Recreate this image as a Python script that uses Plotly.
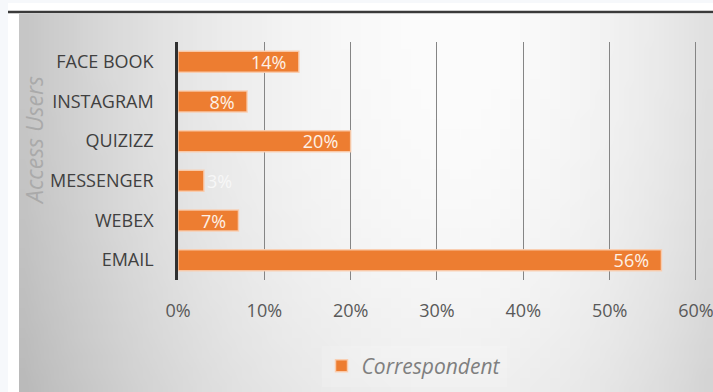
import base64
import struct
import zlib

import plotly.graph_objects as go

# ---- data ----
categories = ["FACE BOOK", "INSTAGRAM", "QUIZIZZ", "MESSENGER", "WEBEX", "EMAIL"]
values = [14, 8, 20, 3, 7, 56]
tick_vals = [0, 10, 20, 30, 40, 50, 60]
tick_text = ["0%", "10%", "20%", "30%", "40%", "50%", "60%"]
series_name = "Correspondent"
axis_title = "Access Users"
bar_labels = [f"{v}%\u00a0\u00a0" if v >= 5 else f"{v}%" for v in values]
label_pos = ["inside" if v >= 5 else "outside" for v in values]

W, H = 713, 392
L, R, T, B = 178, 16, 42, 112
PW, PH = W - L - R, H - T - B
X_MAX = 60.12


def px_x(px):
    return (px - L) / PW


def px_y(py):
    return (H - B - py) / PH


# ---- background gradient (grey, Excel-like) as small PNG ----
def make_png(w, h, pix):
    raw = b"".join(b"\x00" + bytes(r) for r in pix)

    def chunk(tag, data):
        c = struct.pack(">I", len(data)) + tag + data
        return c + struct.pack(">I", zlib.crc32(tag + data) & 0xFFFFFFFF)

    ihdr = struct.pack(">IIBBBBB", w, h, 8, 0, 0, 0, 0)
    return (b"\x89PNG\r\n\x1a\n" + chunk(b"IHDR", ihdr)
            + chunk(b"IDAT", zlib.compress(raw, 9)) + chunk(b"IEND", b""))


gx0, gx1, gy0, gy1 = 19, 713, 14, 392
gw, gh = 70, 38
rows = []
for j in range(gh):
    py = gy0 + (j + 0.5) * (gy1 - gy0) / gh
    row = []
    for i in range(gw):
        px = gx0 + (i + 0.5) * (gx1 - gx0) / gw
        if px < 460:
            fx = ((460 - px) / 430) ** 2
        else:
            fx = ((px - 460) / 340) ** 2
        fy = 0.45 * (max(0, py - 40) / 352) ** 2
        v = 252 - 52 * fx - 28 * fy
        row.append(int(max(0, min(255, v))))
    rows.append(row)
png_uri = "data:image/png;base64," + base64.b64encode(make_png(gw, gh, rows)).decode()

fig = go.Figure()
fig.add_trace(go.Bar(
    y=categories,
    x=values,
    orientation="h",
    name=series_name,
    marker=dict(color="#ED7D31", line=dict(color="rgba(250,205,175,0.9)", width=1.5)),
    text=bar_labels,
    texttemplate="%{text}",
    textposition=label_pos,
    insidetextanchor="end",
    constraintext="none",
    cliponaxis=False,
    textfont=dict(family="Open Sans", size=18, color="#fdf1e7"),
    outsidetextfont=dict(family="Open Sans", size=18, color="#f7f7f7"),
    showlegend=True,
))

fig.update_layout(
    width=W, height=H,
    margin=dict(l=L, r=R, t=T, b=B, pad=0),
    paper_bgcolor="white",
    plot_bgcolor="rgba(0,0,0,0)",
    bargap=0.47,
    font=dict(family="Open Sans", color="#595959"),
    images=[dict(
        source=png_uri, xref="paper", yref="paper",
        x=px_x(gx0), y=px_y(gy0),
        sizex=px_x(gx1) - px_x(gx0), sizey=px_y(gy0) - px_y(gy1),
        xanchor="left", yanchor="top", sizing="stretch", layer="below",
    )],
    shapes=[
        dict(type="rect", xref="paper", yref="paper", x0=px_x(0), x1=px_x(8),
             y0=px_y(H), y1=px_y(0), fillcolor="#f6f8fb", line=dict(width=0), layer="below"),
        dict(type="rect", xref="paper", yref="paper", x0=px_x(0), x1=px_x(W),
             y0=px_y(3), y1=px_y(0), fillcolor="#f6f8fb", line=dict(width=0), layer="below"),
        dict(type="line", xref="paper", yref="paper", x0=px_x(8), x1=px_x(W),
             y0=px_y(12), y1=px_y(12), line=dict(color="#3a3a3a", width=2.5), layer="above"),
    ],
    xaxis=dict(
        range=[0, X_MAX], tickvals=tick_vals, ticktext=tick_text,
        showgrid=True, gridcolor="#858585", gridwidth=1,
        zeroline=False, showline=False,
        tickfont=dict(size=18, color="#595959"),
        ticklabelstandoff=18,
        ticklabeloverflow="allow",
        automargin=False,
        fixedrange=True,
    ),
    yaxis=dict(
        autorange="reversed",
        showline=True, linecolor="#303030", linewidth=2.5,
        showgrid=False, zeroline=False,
        tickfont=dict(size=18, color="#404040"),
        ticklabelstandoff=18,
        automargin=False,
        fixedrange=True,
    ),
    legend=dict(
        orientation="h",
        xref="container", yref="container",
        x=414 / W, y=1 - 366 / H, xanchor="center", yanchor="middle",
        bgcolor="rgba(255,255,255,0.15)",
        font=dict(size=21, color="#7f7f7f", style="italic"),
    ),
    annotations=[dict(
        text=axis_title, xref="paper", yref="paper",
        x=px_x(34), y=px_y(141), showarrow=False, textangle=-90,
        font=dict(family="Open Sans", size=23, color="#aaaaaa", style="italic"),
        xanchor="center", yanchor="middle",
    )],
)

fig.write_html("out.html")
